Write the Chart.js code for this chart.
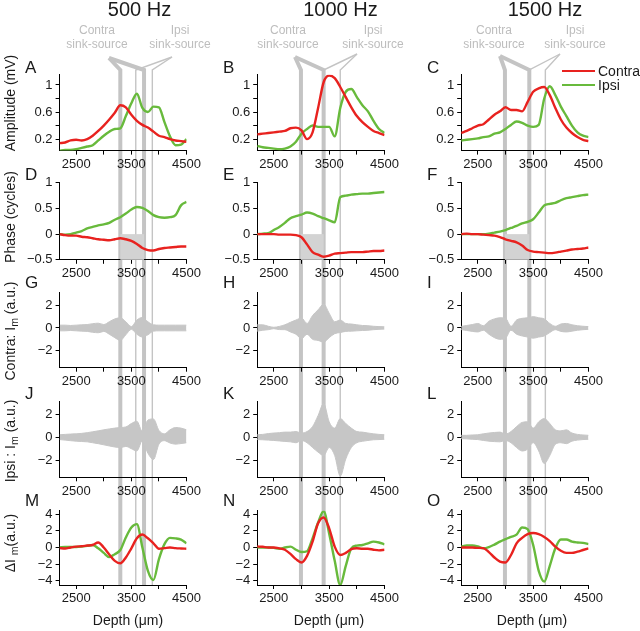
<!DOCTYPE html>
<html>
<head>
<meta charset="utf-8">
<script src="https://cdn.jsdelivr.net/npm/chart.js@4.4.1/dist/chart.umd.min.js"></script>
<style>
  body { margin: 0; background: #fff; width: 640px; height: 631px; overflow: hidden; position: relative;
         font-family: "Liberation Sans", Arial, sans-serif; color: #1a1a1a; }
  canvas { position: absolute; }
  .t { position: absolute; white-space: nowrap; line-height: 1; }
  .t sub { font-size: 0.75em; vertical-align: -0.25em; line-height: 0; }
</style>
</head>
<body>
<canvas id="guides" width="640" height="631" style="left:0;top:0"></canvas>
<script>
// Depth axis (um)
const depth = [2200, 2300, 2400, 2500, 2600, 2700, 2800, 2900, 3000, 3100, 3200, 3300,
               3400, 3500, 3600, 3700, 3800, 3900, 4000, 4100, 4200, 4300, 4400, 4500];
const xTickValues = [2500, 3000, 3500, 4000, 4500];
const xTickLabels = ['2500', '', '3500', '', '4500'];
const freqs = ['500 Hz', '1000 Hz', '1500 Hz'];

// Amplitude (mV)
const ampContra500  = [0.14,0.15,0.18,0.19,0.18,0.20,0.25,0.32,0.40,0.49,0.59,0.70,0.67,0.56,0.47,0.41,0.37,0.31,0.25,0.23,0.20,0.18,0.17,0.16];
const ampIpsi500    = [0.03,0.04,0.04,0.05,0.07,0.09,0.11,0.18,0.25,0.31,0.35,0.36,0.54,0.73,0.87,0.66,0.60,0.68,0.67,0.45,0.24,0.11,0.12,0.20];
const ampContra1000 = [0.27,0.28,0.29,0.30,0.31,0.32,0.36,0.37,0.33,0.20,0.30,0.66,1.04,1.14,1.10,0.97,0.82,0.67,0.54,0.45,0.38,0.32,0.29,0.26];
const ampIpsi1000   = [0.10,0.08,0.07,0.06,0.05,0.06,0.09,0.16,0.28,0.35,0.40,0.38,0.38,0.38,0.24,0.66,0.90,0.94,0.82,0.70,0.61,0.47,0.35,0.29];
const ampContra1500 = [0.29,0.32,0.36,0.40,0.42,0.49,0.56,0.61,0.67,0.63,0.63,0.61,0.75,0.90,0.95,0.97,0.85,0.66,0.49,0.37,0.29,0.23,0.19,0.17];
const ampIpsi1500   = [0.18,0.19,0.20,0.21,0.23,0.24,0.28,0.30,0.35,0.41,0.46,0.44,0.40,0.38,0.41,0.80,0.98,0.85,0.68,0.54,0.40,0.30,0.25,0.23];

// Phase (cycles)
const phContra500  = [0,-0.02,-0.03,-0.03,-0.05,-0.06,-0.08,-0.10,-0.11,-0.12,-0.10,-0.08,-0.10,-0.13,-0.19,-0.27,-0.31,-0.32,-0.29,-0.27,-0.26,-0.25,-0.24,-0.24];
const phIpsi500    = [0,-0.01,0,0.03,0.06,0.11,0.14,0.17,0.19,0.22,0.28,0.33,0.40,0.48,0.53,0.51,0.45,0.37,0.33,0.32,0.33,0.37,0.56,0.63];
const phContra1000 = [0,0,0,0,-0.01,-0.01,-0.01,-0.02,-0.06,-0.20,-0.35,-0.40,-0.44,-0.42,-0.38,-0.37,-0.36,-0.35,-0.35,-0.35,-0.34,-0.33,-0.33,-0.32];
const phIpsi1000   = [0,0.01,0.02,0.08,0.14,0.22,0.31,0.35,0.38,0.42,0.40,0.35,0.31,0.27,0.23,0.72,0.75,0.77,0.78,0.79,0.79,0.80,0.81,0.82];
const phContra1500 = [0,0.01,0,0,-0.01,-0.02,-0.03,-0.06,-0.10,-0.13,-0.16,-0.22,-0.31,-0.34,-0.35,-0.36,-0.37,-0.36,-0.34,-0.32,-0.30,-0.29,-0.28,-0.26];
const phIpsi1500   = [0,0,0,0,0,0.01,0.03,0.05,0.08,0.12,0.16,0.21,0.24,0.29,0.42,0.56,0.59,0.61,0.66,0.70,0.72,0.74,0.76,0.77];

// Im envelopes (a.u.), contra
const contraUp500  = [0.25,0.25,0.22,0.25,0.28,0.30,0.38,0.42,0.30,0.55,0.80,0.90,0.55,0.12,0.70,0.92,0.55,0.28,0.25,0.25,0.25,0.25,0.25,0.25];
const contraLo500  = [-0.25,-0.25,-0.22,-0.25,-0.28,-0.30,-0.38,-0.42,-0.30,-0.55,-0.85,-1.10,-0.60,-0.12,-0.55,-0.80,-0.60,-0.28,-0.25,-0.25,-0.25,-0.25,-0.25,-0.25];
const contraUp1000 = [0.28,0.28,0.15,0.06,0.14,0.28,0.50,0.70,0.88,0.40,1.10,1.60,2.10,1.30,0.55,0.70,0.40,0.35,0.28,0.22,0.20,0.15,0.12,0.10];
const contraLo1000 = [-0.28,-0.20,-0.15,-0.06,-0.14,-0.15,-0.35,-0.55,-0.95,-0.55,-1.00,-1.10,-1.25,-0.85,-0.50,-0.40,-0.30,-0.28,-0.25,-0.22,-0.20,-0.15,-0.12,-0.10];
const contraUp1500 = [0.14,0.22,0.30,0.40,0.20,0.60,0.80,0.90,0.85,0.15,0.70,0.85,0.90,1.00,0.90,0.80,0.40,0.15,0.35,0.40,0.28,0.20,0.15,0.12];
const contraLo1500 = [-0.14,-0.22,-0.30,-0.35,-0.20,-0.55,-0.85,-1.00,-0.90,-0.20,-0.55,-0.70,-0.80,-0.90,-0.80,-0.70,-0.40,-0.15,-0.30,-0.35,-0.28,-0.20,-0.15,-0.12];

// Im envelopes (a.u.), ipsi
const ipsiUp500  = [0.22,0.25,0.28,0.30,0.34,0.40,0.48,0.56,0.65,0.73,0.80,0.85,0.90,1.20,1.40,0.50,1.50,1.60,0.60,0.30,0.65,0.85,0.80,0.65];
const ipsiLo500  = [-0.20,-0.25,-0.30,-0.34,-0.37,-0.40,-0.48,-0.56,-0.66,-0.76,-0.85,-0.90,-0.80,-1.00,-1.20,-0.30,-1.40,-1.95,-0.60,-0.30,-0.50,-0.60,-0.55,-0.48];
const ipsiUp1000 = [0.22,0.25,0.32,0.37,0.40,0.45,0.45,0.50,0.37,0.50,0.93,1.90,2.95,1.35,0.80,1.63,1.20,0.80,0.50,0.45,0.37,0.30,0.25,0.22];
const ipsiLo1000 = [-0.20,-0.22,-0.25,-0.28,-0.32,-0.36,-0.40,-0.48,-0.28,-0.48,-0.90,-1.30,-1.60,-0.90,-1.60,-3.40,-1.90,-0.90,-0.48,-0.35,-0.28,-0.22,-0.20,-0.18];
const ipsiUp1500 = [0.17,0.17,0.20,0.22,0.30,0.37,0.42,0.45,0.28,0.50,0.93,1.30,1.35,0.80,1.35,1.63,1.20,0.65,0.56,0.65,0.37,0.25,0.20,0.17];
const ipsiLo1500 = [-0.12,-0.14,-0.18,-0.20,-0.28,-0.34,-0.38,-0.40,-0.28,-0.48,-0.90,-1.20,-1.04,-0.48,-1.20,-2.30,-1.60,-0.62,-0.48,-0.56,-0.34,-0.25,-0.20,-0.18];

// Delta Im (a.u.)
const dContra500  = [-0.08,-0.12,0,0.10,0.15,0.23,0.30,0.60,0,-0.85,-1.60,-1.90,-1.20,-0.10,1.10,1.55,1.10,0.50,-0.15,-0.08,0,-0.08,-0.12,-0.15];
const dIpsi500    = [0,0.05,0.05,0.05,0.10,0.20,0.30,-0.10,-0.65,-1.15,-0.80,-0.30,1.20,2.40,2.80,0,-2.80,-3.90,-1.40,0.40,1.15,1.10,0.95,0.50];
const dContra1000 = [0.12,0.08,0,0,-0.10,-0.27,-0.77,-1.40,-1.80,-1.00,0.70,2.90,3.60,2.30,0.10,-0.90,-0.65,-0.20,-0.10,-0.15,-0.15,-0.27,-0.35,-0.27];
const dIpsi1000   = [0,0,0,-0.05,-0.15,0,0.10,-0.27,-0.55,-0.45,1.10,3.00,4.35,1.65,-1.60,-4.50,-2.20,-0.10,0.23,0.30,0.50,0.70,0.60,0.38];
const dContra1500 = [0,0,0,-0.05,-0.08,-0.55,-1.20,-1.70,-1.80,-0.90,0.50,1.15,1.60,1.73,1.60,1.27,0.77,0.10,-0.40,-0.65,-0.65,-0.50,-0.30,-0.10];
const dIpsi1500   = [0.10,0.23,0.23,0.12,-0.10,0.05,0.35,0.70,1.00,1.27,1.54,2.40,2.20,0.30,-2.80,-4.10,-2.20,-0.10,0.95,0.95,0.70,0.60,0.55,0.40];

// Sink-source markers (depth, um) per column
const contraMarks = [[3300, 3730], [2990, 3400], [2990, 3430]];
const ipsiMarks   = [[3580, 3880], [3400, 3700], [3430, 3720]];

// Layout
const RED = '#e8221f', GREEN = '#68ba3c', GRAY = '#c6c6c6', GUIDE = '#c4c4c4';
const colLeft = [59.6, 257.2, 461.2];
const plotW = 131;
const rowTop = [72.2, 180.3, 290.4, 399.4, 508];
const rowH = [78.4, 79.5, 77.3, 77.9, 77];
const rowY = [
  { min: 0.03, max: 1.15, ticks: [0.2, 0.4, 0.6, 0.8, 1], labels: ['0.2', '', '0.6', '', '1'] },
  { min: -0.5, max: 1, ticks: [-0.5, 0, 0.5, 1], labels: ['\u22120.5', '0', '0.5', '1'] },
  { min: -3.5, max: 3.1, ticks: [-2, 0, 2], labels: ['\u22122', '0', '2'] },
  { min: -3.5, max: 3.1, ticks: [-2, 0, 2], labels: ['\u22122', '0', '2'] },
  { min: -4.5, max: 4.4, ticks: [-4, -2, 0, 2, 4], labels: ['\u22124', '\u22122', '0', '2', '4'] }
];

Chart.defaults.font.family = '"Liberation Sans", Arial, sans-serif';
Chart.defaults.font.size = 13;
Chart.defaults.color = '#1a1a1a';

const pts = vals => vals.map((v, i) => ({ x: depth[i], y: v }));
const lineDs = (vals, color) => ({ data: pts(vals), borderColor: color, borderWidth: 2.4, fill: false });
const envDs = (up, lo) => [
  { data: pts(up), borderColor: GRAY, backgroundColor: GRAY, borderWidth: 1, fill: '+1' },
  { data: pts(lo), borderColor: GRAY, borderWidth: 1, fill: false }
];

// grey block between the contra sink-source depths on the phase plots
function shadePlugin(d0, d1) {
  return {
    id: 'shade',
    beforeDatasetsDraw(chart) {
      const { ctx, scales: { x, y } } = chart;
      const x0 = x.getPixelForValue(d0), x1 = x.getPixelForValue(d1);
      const y0 = y.getPixelForValue(0), y1 = y.getPixelForValue(-0.5);
      ctx.save();
      ctx.fillStyle = '#d3d3d3';
      ctx.fillRect(x0, y0, x1 - x0, y1 - y0);
      ctx.restore();
    }
  };
}

function makePanel(col, row, datasets, plugins) {
  const L = colLeft[col], T = rowTop[row], H = rowH[row], ycfg = rowY[row];
  const cl = Math.floor(L - 46), ct = Math.floor(T - 8);
  const cw = Math.ceil(L + plotW + 12) - cl, ch = Math.ceil(T + H + 26) - ct;
  const cv = document.createElement('canvas');
  cv.width = cw; cv.height = ch;
  cv.style.left = cl + 'px'; cv.style.top = ct + 'px';
  document.body.appendChild(cv);
  const axisGrid = { drawOnChartArea: false, drawTicks: true, tickLength: 4, color: '#000', lineWidth: 1 };
  return new Chart(cv, {
    type: 'line',
    data: { datasets },
    plugins: plugins || [],
    options: {
      responsive: false, animation: false, events: [],
      layout: { padding: { left: 0, top: T - ct, right: cw - (L + plotW - cl), bottom: 0 } },
      plugins: { legend: { display: false }, tooltip: { enabled: false } },
      elements: { point: { radius: 0 }, line: { cubicInterpolationMode: 'monotone' } },
      scales: {
        x: {
          type: 'linear', min: 2200, max: 4500,
          afterBuildTicks: s => { s.ticks = xTickValues.map(v => ({ value: v })); },
          afterFit: s => { s.height = ch - (T - ct) - H; },
          ticks: { autoSkip: false, maxRotation: 0, padding: 2, callback: (v, i) => xTickLabels[i] },
          grid: axisGrid,
          border: { display: true, color: '#000', width: 1 }
        },
        y: {
          min: ycfg.min, max: ycfg.max,
          afterBuildTicks: s => { s.ticks = ycfg.ticks.map(v => ({ value: v })); },
          afterFit: s => { s.width = L - cl; },
          ticks: { autoSkip: false, padding: 3, callback: (v, i) => ycfg.labels[i] },
          grid: axisGrid,
          border: { display: true, color: '#000', width: 1 }
        }
      }
    }
  });
}

const ampC = [ampContra500, ampContra1000, ampContra1500];
const ampI = [ampIpsi500, ampIpsi1000, ampIpsi1500];
const phC = [phContra500, phContra1000, phContra1500];
const phI = [phIpsi500, phIpsi1000, phIpsi1500];
const cUp = [contraUp500, contraUp1000, contraUp1500];
const cLo = [contraLo500, contraLo1000, contraLo1500];
const iUp = [ipsiUp500, ipsiUp1000, ipsiUp1500];
const iLo = [ipsiLo500, ipsiLo1000, ipsiLo1500];
const dC = [dContra500, dContra1000, dContra1500];
const dI = [dIpsi500, dIpsi1000, dIpsi1500];

const charts = [0, 1, 2].map(c => [
  makePanel(c, 0, [lineDs(ampC[c], RED), lineDs(ampI[c], GREEN)]),
  makePanel(c, 1, [lineDs(phC[c], RED), lineDs(phI[c], GREEN)], [shadePlugin(contraMarks[c][0], contraMarks[c][1])]),
  makePanel(c, 2, envDs(cUp[c], cLo[c])),
  makePanel(c, 3, envDs(iUp[c], iLo[c])),
  makePanel(c, 4, [lineDs(dC[c], RED), lineDs(dI[c], GREEN)])
]);

// Sink-source guide lines running down through all panels of a column
const contraOrigin = [[109, 58], [295, 57], [500, 56]];
const ipsiOrigin = [[172, 57], [357, 54], [560, 54]];
const bendY = 70;
const g = document.getElementById('guides').getContext('2d');
g.strokeStyle = GUIDE;
g.lineJoin = 'miter';
charts.forEach((col, c) => {
  const top = col[0], bot = col[4];
  const off = parseFloat(top.canvas.style.left);
  const xp = d => off + top.scales.x.getPixelForValue(d);
  const bottom = parseFloat(bot.canvas.style.top) + bot.chartArea.bottom;
  const draw = (origin, marks, w) => {
    g.lineWidth = w;
    marks.forEach(d => {
      g.beginPath();
      g.moveTo(origin[0], origin[1]);
      g.lineTo(xp(d), bendY);
      g.lineTo(xp(d), bottom);
      g.stroke();
    });
  };
  draw(contraOrigin[c], contraMarks[c], 4);
  draw(ipsiOrigin[c], ipsiMarks[c], 1.4);
});

// Text
function addText(html, x, y, size, opt) {
  opt = opt || {};
  const d = document.createElement('div');
  d.className = 't';
  d.innerHTML = html;
  d.style.fontSize = size + 'px';
  d.style.left = x + 'px';
  d.style.top = y + 'px';
  if (opt.color) d.style.color = opt.color;
  let tf = opt.left ? 'translate(0,-50%)' : 'translate(-50%,-50%)';
  if (opt.rot) tf += ' rotate(-90deg)';
  d.style.transform = tf;
  document.body.appendChild(d);
}

const titleX = [139.5, 340.5, 545];
const contraTextX = [97, 288, 494];
const ipsiTextX = [180, 373, 575];
const depthLabelX = [128, 329, 532];
const letterX = [25, 223, 427];
const letterY = [67, 174, 282, 393, 500];
const letters = [['A', 'D', 'G', 'J', 'M'], ['B', 'E', 'H', 'K', 'N'], ['C', 'F', 'I', 'L', 'O']];
const ANNOT = '#bdbdbd';

for (let c = 0; c < 3; c++) {
  addText(freqs[c], titleX[c], 9, 20);
  addText('Contra', contraTextX[c], 30, 12, { color: ANNOT });
  addText('sink-source', contraTextX[c], 44, 12, { color: ANNOT });
  addText('Ipsi', ipsiTextX[c], 30, 12, { color: ANNOT });
  addText('sink-source', ipsiTextX[c], 44, 12, { color: ANNOT });
  addText('Depth (\u03bcm)', depthLabelX[c], 620, 14);
  letters[c].forEach((l, r) => addText(l, letterX[c], letterY[r], 17, { left: true }));
}

addText('Amplitude (mV)', 10, 103, 14, { rot: true });
addText('Phase (cycles)', 10, 217, 14, { rot: true });
addText('Contra: I<sub>m</sub> (a.u.)', 10, 331, 14, { rot: true });
addText('Ipsi : I<sub>m</sub> (a.u.)', 10, 441, 14, { rot: true });
addText('\u0394I <sub>m</sub>(a.u.)', 10, 543, 14, { rot: true });

// Legend (panel C)
function legendRow(label, color, y) {
  const s = document.createElement('div');
  s.style.cssText = 'position:absolute;left:562px;width:33px;height:2.5px;top:' + (y - 1.25) + 'px;background:' + color;
  document.body.appendChild(s);
  addText(label, 598, y, 14, { left: true });
}
legendRow('Contra', RED, 71);
legendRow('Ipsi', GREEN, 85);
</script>
</body>
</html>
